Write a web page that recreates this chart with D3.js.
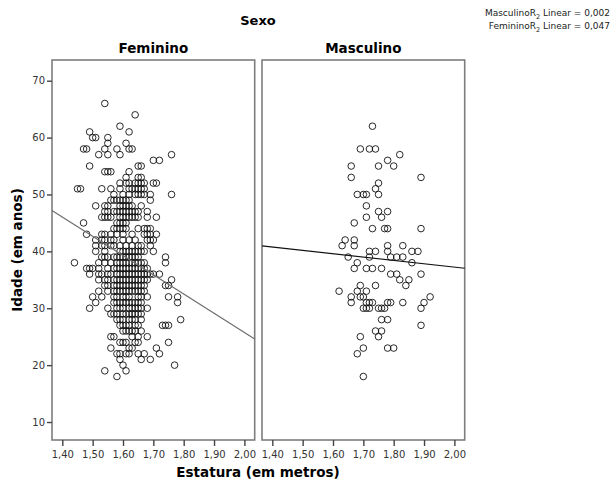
<!DOCTYPE html>
<html><head><meta charset="utf-8">
<script src="https://cdn.jsdelivr.net/npm/d3@7"></script>
<style>body{margin:0;background:#fff} svg{display:block}</style>
</head><body><svg id="c" width="613" height="481"></svg>
<script>
const panels = ["Feminino", "Masculino"];
const xTicks = [1.40, 1.50, 1.60, 1.70, 1.80, 1.90, 2.00];
const yTicks = [10, 20, 30, 40, 50, 60, 70];
// [age, heights...]
const femininoRows = [
  [66, [1.54]],
  [64, [1.64]],
  [62, [1.59]],
  [61, [1.49, 1.62]],
  [60, [1.50, 1.51, 1.55]],
  [59, [1.55, 1.61]],
  [58, [1.47, 1.48, 1.54, 1.58, 1.62, 1.63]],
  [57, [1.52, 1.55, 1.59, 1.76]],
  [56, [1.70, 1.72]],
  [55, [1.49, 1.65, 1.66]],
  [54, [1.54, 1.55, 1.56, 1.62]],
  [53, [1.61, 1.65, 1.66]],
  [52, [1.59, 1.61, 1.62, 1.64, 1.65, 1.66, 1.67, 1.70, 1.71]],
  [51, [1.45, 1.46, 1.53, 1.56, 1.59, 1.62, 1.63, 1.64, 1.65, 1.66, 1.67]],
  [50, [1.57, 1.60, 1.62, 1.64, 1.65, 1.66, 1.67, 1.69, 1.76]],
  [49, [1.56, 1.57, 1.58, 1.59, 1.60, 1.61, 1.62, 1.69]],
  [48, [1.51, 1.54, 1.55, 1.59, 1.60, 1.61, 1.62, 1.63, 1.66]],
  [47, [1.54, 1.55, 1.57, 1.58, 1.59, 1.60, 1.61, 1.62, 1.63, 1.64, 1.65, 1.68]],
  [46, [1.53, 1.54, 1.55, 1.56, 1.59, 1.60, 1.61, 1.62, 1.63, 1.64, 1.65, 1.68, 1.71]],
  [45, [1.47, 1.58, 1.59, 1.60, 1.61]],
  [44, [1.57, 1.58, 1.59, 1.60, 1.61, 1.65, 1.67, 1.68, 1.69]],
  [43, [1.48, 1.53, 1.54, 1.56, 1.58, 1.60, 1.63, 1.67, 1.68, 1.69, 1.71]],
  [42, [1.51, 1.53, 1.54, 1.56, 1.57, 1.60, 1.62, 1.64, 1.68, 1.69, 1.70]],
  [41, [1.51, 1.53, 1.54, 1.56, 1.57, 1.59, 1.61, 1.63, 1.65, 1.66, 1.69]],
  [40, [1.51, 1.54, 1.59, 1.60, 1.61, 1.62, 1.63, 1.64, 1.65, 1.66, 1.67, 1.70]],
  [39, [1.53, 1.54, 1.55, 1.57, 1.58, 1.59, 1.60, 1.61, 1.62, 1.63, 1.64, 1.65, 1.74]],
  [38, [1.44, 1.52, 1.54, 1.56, 1.58, 1.59, 1.60, 1.61, 1.62, 1.63, 1.64, 1.65, 1.66, 1.67, 1.74]],
  [37, [1.48, 1.49, 1.50, 1.52, 1.55, 1.57, 1.58, 1.59, 1.60, 1.61, 1.62, 1.63, 1.64, 1.65, 1.66, 1.67, 1.68]],
  [36, [1.49, 1.52, 1.53, 1.55, 1.56, 1.58, 1.59, 1.60, 1.61, 1.62, 1.63, 1.64, 1.65, 1.66, 1.67, 1.68, 1.69, 1.70, 1.72]],
  [35, [1.52, 1.54, 1.55, 1.57, 1.58, 1.59, 1.60, 1.61, 1.62, 1.63, 1.64, 1.65, 1.66, 1.67, 1.68, 1.76]],
  [34, [1.54, 1.55, 1.57, 1.58, 1.59, 1.60, 1.61, 1.62, 1.63, 1.64, 1.65, 1.66, 1.67, 1.74, 1.75]],
  [33, [1.52, 1.55, 1.57, 1.58, 1.59, 1.60, 1.61, 1.62, 1.63, 1.64, 1.65, 1.66, 1.67]],
  [32, [1.50, 1.53, 1.57, 1.58, 1.60, 1.61, 1.62, 1.65, 1.66, 1.68, 1.75, 1.78]],
  [31, [1.51, 1.57, 1.58, 1.59, 1.60, 1.61, 1.62, 1.63, 1.64, 1.65, 1.66, 1.78]],
  [30, [1.49, 1.55, 1.58, 1.59, 1.60, 1.62, 1.63, 1.64, 1.65, 1.66, 1.68]],
  [29, [1.56, 1.57, 1.58, 1.60, 1.61, 1.62, 1.63, 1.64, 1.65, 1.66]],
  [28, [1.58, 1.59, 1.60, 1.62, 1.63, 1.64, 1.66, 1.79]],
  [27, [1.59, 1.60, 1.61, 1.62, 1.64, 1.65, 1.73, 1.74, 1.75]],
  [26, [1.60, 1.61, 1.62, 1.63, 1.64, 1.66]],
  [25, [1.56, 1.57, 1.63, 1.65, 1.68]],
  [24, [1.59, 1.60, 1.61, 1.64, 1.65, 1.75]],
  [23, [1.56, 1.62, 1.63, 1.71]],
  [22, [1.58, 1.59, 1.61, 1.62, 1.65, 1.67, 1.72]],
  [21, [1.59, 1.66, 1.69]],
  [20, [1.60, 1.77]],
  [19, [1.54, 1.61]],
  [18, [1.58]]
];
const masculinoRows = [
  [62, [1.73]],
  [58, [1.69, 1.72, 1.74]],
  [57, [1.82]],
  [56, [1.78]],
  [55, [1.66, 1.75, 1.80]],
  [53, [1.66, 1.89]],
  [52, [1.75]],
  [51, [1.74]],
  [50, [1.68, 1.70, 1.71, 1.75]],
  [48, [1.71]],
  [47, [1.75, 1.78]],
  [46, [1.71, 1.76]],
  [45, [1.67]],
  [44, [1.73, 1.77, 1.78, 1.89]],
  [42, [1.64, 1.67]],
  [41, [1.63, 1.67, 1.78, 1.83]],
  [40, [1.72, 1.74, 1.78, 1.86, 1.88]],
  [39, [1.65, 1.72, 1.79, 1.81, 1.83]],
  [38, [1.68, 1.86]],
  [37, [1.67, 1.71, 1.73, 1.76]],
  [36, [1.79, 1.81, 1.89]],
  [35, [1.82, 1.85]],
  [34, [1.69, 1.74, 1.84]],
  [33, [1.62, 1.68, 1.71]],
  [32, [1.66, 1.69, 1.70, 1.92]],
  [31, [1.66, 1.71, 1.72, 1.73, 1.78, 1.79, 1.83, 1.90]],
  [30, [1.70, 1.71, 1.72, 1.75, 1.76, 1.77, 1.89]],
  [28, [1.76, 1.78]],
  [27, [1.89]],
  [26, [1.74, 1.76]],
  [25, [1.69, 1.75]],
  [23, [1.70, 1.78, 1.80]],
  [22, [1.68]],
  [18, [1.70]]
];
const fitIntercepts = [93.35, 48.99];
const fitSlopes = [-33.8, -5.88];
const fitColors = ["#6e6e6e", "#111"];
const legendNames = ["Masculino", "Feminino"];
const legendR2 = ["0,002", "0,047"];

const svg = d3.select("#c");
const font = "'DejaVu Sans', Verdana, sans-serif";
const plotTop = 60, plotBottom = 440;
const panelX = [52, 262], panelW = 202.7;
const y = d3.scaleLinear().domain([6.84, 73.64]).range([plotBottom, plotTop]);
const fmt = d => d.toFixed(2).replace(".", ",");
const allRows = [femininoRows, masculinoRows];

panels.forEach((name, i) => {
  const x = d3.scaleLinear().domain([1.366, 2.034]).range([panelX[i], panelX[i] + panelW]);
  const g = svg.append("g");
  g.append("rect").attr("x", panelX[i]).attr("y", plotTop).attr("width", panelW).attr("height", plotBottom - plotTop)
    .attr("fill", "#fff").attr("stroke", "#7d7d7d").attr("stroke-width", 1.6);
  const xa = g.append("g").attr("transform", `translate(0,${plotBottom})`)
    .call(d3.axisBottom(x).tickValues(xTicks).tickFormat(fmt).tickSize(6).tickSizeOuter(0));
  xa.select(".domain").remove();
  xa.selectAll("line").attr("stroke", "#444").attr("stroke-width", 1.4);
  xa.selectAll("text").attr("font-family", font).attr("font-size", 10).attr("fill", "#333").attr("dy", "0.9em");
  if (i === 0) {
    const ya = g.append("g").attr("transform", `translate(${panelX[i]},0)`)
      .call(d3.axisLeft(y).tickValues(yTicks).tickSize(5).tickSizeOuter(0));
    ya.select(".domain").remove();
    ya.selectAll("line").attr("stroke", "#444").attr("stroke-width", 1.4);
    ya.selectAll("text").attr("font-family", font).attr("font-size", 10).attr("fill", "#333").attr("x", -7);
  }
  const pts = allRows[i].flatMap(([age, hs]) => hs.map(h => ({h, age})));
  g.append("g").selectAll("circle").data(pts).join("circle")
    .attr("cx", d => x(d.h)).attr("cy", d => y(d.age)).attr("r", 3.3)
    .attr("fill", "none").attr("stroke", "#111").attr("stroke-width", 0.9);
  const [x0, x1] = x.domain();
  g.append("line")
    .attr("x1", x(x0)).attr("y1", y(fitIntercepts[i] + fitSlopes[i] * x0))
    .attr("x2", x(x1)).attr("y2", y(fitIntercepts[i] + fitSlopes[i] * x1))
    .attr("stroke", fitColors[i]).attr("stroke-width", 1.2);
  svg.append("text").attr("x", panelX[i] + panelW / 2).attr("y", 53).attr("text-anchor", "middle")
    .attr("font-family", font).attr("font-weight", "bold").attr("font-size", 13.5).text(name);
});

svg.append("text").attr("x", 258).attr("y", 25).attr("text-anchor", "middle")
  .attr("font-family", font).attr("font-weight", "bold").attr("font-size", 13).text("Sexo");
svg.append("text").attr("x", 258).attr("y", 477).attr("text-anchor", "middle")
  .attr("font-family", font).attr("font-weight", "bold").attr("font-size", 13.5).text("Estatura (em metros)");
svg.append("text").attr("transform", "translate(22,250) rotate(-90)").attr("text-anchor", "middle")
  .attr("font-family", font).attr("font-weight", "bold").attr("font-size", 13.5).text("Idade (em anos)");

legendNames.forEach((n, i) => {
  const t = svg.append("text").attr("x", 610).attr("y", 16 + i * 13).attr("text-anchor", "end")
    .attr("font-family", font).attr("font-size", 9).attr("fill", "#222");
  t.append("tspan").text(n + "R");
  t.append("tspan").attr("font-size", 6.5).attr("dy", 2.5).text("2");
  t.append("tspan").attr("dy", -2.5).text(" Linear = " + legendR2[i]);
});
</script></body></html>
